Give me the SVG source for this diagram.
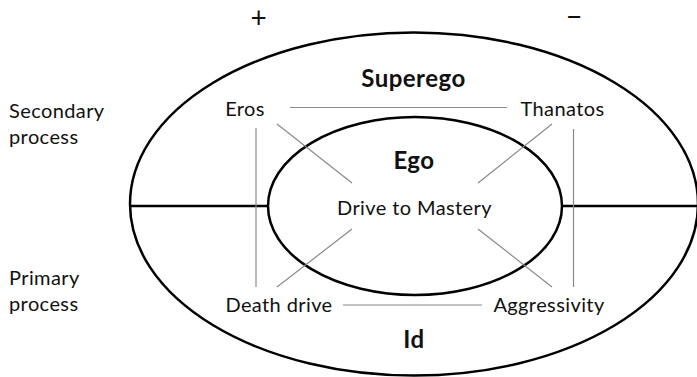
<svg xmlns="http://www.w3.org/2000/svg" width="697" height="377" viewBox="0 0 697 377">
<style>
  .shape { fill: none; stroke: #000; stroke-width: 2.5; }
  .conn { stroke: #8a8a8a; stroke-width: 1.2; fill: none; }
  .lbl { font-family: Lato, "Liberation Sans", sans-serif; font-size: 20px; fill: #111; letter-spacing: 0.4px; }
  .big { font-family: Lato, "Liberation Sans", sans-serif; font-size: 24px; font-weight: bold; fill: #111; letter-spacing: 0.5px; }
  .sign { font-family: Lato, "Liberation Sans", sans-serif; font-size: 28px; fill: #111; text-anchor: middle; }
  .mid { text-anchor: middle; }
</style>
<rect width="697" height="377" fill="#fff"/>
<g id="axis-labels">
  <text class="sign" x="258.5" y="27.5">+</text>
  <text class="sign" x="574" y="26.5">−</text>
  <text class="lbl" x="9" y="118">Secondary</text>
  <text class="lbl" x="9" y="143.5">process</text>
  <text class="lbl" x="9" y="284.5">Primary</text>
  <text class="lbl" x="9" y="311">process</text>
</g>
<g id="outer">
  <ellipse class="shape" cx="414" cy="204" rx="284" ry="171.5"/>
  <line class="shape" x1="130" y1="206" x2="268" y2="206"/>
  <line class="shape" x1="562" y1="206" x2="699" y2="206"/>
  <text class="big mid" x="413.5" y="86.5">Superego</text>
  <text class="big mid" x="414" y="348">Id</text>
</g>
<g id="ego">
  <ellipse class="shape" cx="415" cy="206" rx="147" ry="89"/>
  <text class="big mid" x="414" y="168.5">Ego</text>
</g>
<g id="connectors">
  <line class="conn" x1="290" y1="107.5" x2="507" y2="107.5"/>
  <line class="conn" x1="343" y1="305" x2="482" y2="305"/>
  <line class="conn" x1="256" y1="128" x2="256" y2="287"/>
  <line class="conn" x1="573.5" y1="129" x2="573.5" y2="287"/>
  <line class="conn" x1="277" y1="124" x2="352" y2="183"/>
  <line class="conn" x1="552" y1="124" x2="478" y2="183"/>
  <line class="conn" x1="277" y1="287" x2="352" y2="229"/>
  <line class="conn" x1="478" y1="229" x2="552" y2="287"/>
</g>
<g id="eros"><text class="lbl mid" x="245" y="116">Eros</text></g>
<g id="thanatos"><text class="lbl mid" x="562.5" y="116">Thanatos</text></g>
<g id="drive-to-mastery"><text class="lbl mid" x="414.5" y="215">Drive to Mastery</text></g>
<g id="death-drive"><text class="lbl mid" x="279" y="311.5">Death drive</text></g>
<g id="aggressivity"><text class="lbl mid" x="549" y="311.5">Aggressivity</text></g>
</svg>
